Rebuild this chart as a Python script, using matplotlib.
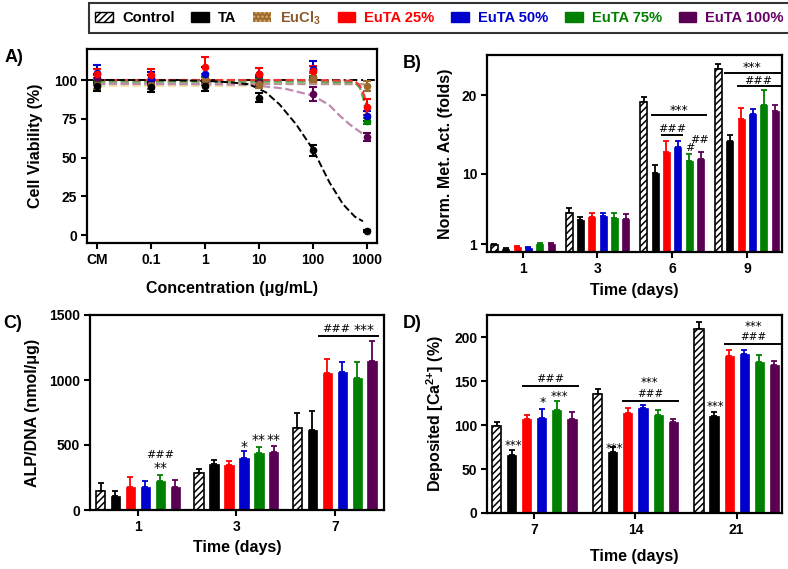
import numpy as np
import matplotlib
matplotlib.use('Agg')
import matplotlib.pyplot as plt
from matplotlib.patches import Patch

plt.rcParams['font.family'] = ['Liberation Sans', 'DejaVu Sans']
plt.rcParams['font.weight'] = 'bold'
plt.rcParams['axes.labelweight'] = 'bold'
plt.rcParams['axes.linewidth'] = 1.6
plt.rcParams['hatch.linewidth'] = 1.1
plt.rcParams['mathtext.fontset'] = 'custom'
plt.rcParams['mathtext.rm'] = 'Liberation Sans:bold'
plt.rcParams['mathtext.bf'] = 'Liberation Sans:bold'
plt.rcParams['mathtext.default'] = 'rm'

# legend / series
names = ['Control', 'TA', 'EuCl$_3$', 'EuTA 25%', 'EuTA 50%', 'EuTA 75%', 'EuTA 100%']
face = ['white', 'black', '#9C6A2E', '#FF0000', '#0000CC', '#008000', '#5A0052']
txt_col = ['black', 'black', '#8B5A2B', '#FF0000', '#0000CC', '#008000', '#660066']

# ---- A) cell viability
conc = [0.01, 0.1, 1, 10, 100, 1000]
conc_labels = ['CM', '0.1', '1', '10', '100', '1000']
via = {
    'EuTA 75%': ([100, 100, 101, 100, 102, 73.6], [3, 3, 3, 3, 3, 2]),
    'EuTA 100%': ([101, 100, 100, 99, 90.8, 63.3], [3, 3, 3, 3, 4.5, 2.5]),
    'EuCl$_3$': ([97, 97, 100.5, 97.6, 101.5, 96.2], [3, 3, 3, 3, 3, 3]),
    'EuTA 50%': ([104.7, 101.5, 104.2, 103.7, 106.8, 76.8], [5, 4, 4, 4, 5.4, 3]),
    'EuTA 25%': ([104, 103.2, 108.4, 104.2, 105.8, 82.6], [3, 3.6, 6.4, 3.5, 3.5, 5]),
    'TA': ([96.2, 95.5, 96.2, 88.6, 54.7, 2.6], [3.2, 3, 3, 3, 3.5, 0.8]),
}
# fitted curves
fit_ta_x = [0.01, 0.1, 1, 3, 6.7, 13.6, 24, 49, 100, 204, 363, 600, 850]
fit_ta_y = [100, 100, 99.5, 98.5, 97.2, 92, 84.4, 71.5, 55.5, 34, 20, 12, 9]
fit_red_x = [0.01, 1, 10, 100, 600, 750, 900, 1000]
fit_red_y = [100, 100, 100, 100, 99.5, 96, 90, 83]
fit_green_x = [0.01, 1, 10, 100, 600, 750, 900, 1000]
fit_green_y = [99, 99, 99, 99, 98.5, 95, 86, 74]
fit_pur_x = [0.01, 1, 5, 10, 30, 100, 200, 316, 500, 1000]
fit_pur_y = [97.5, 97.3, 97, 96.3, 94.5, 90, 84, 77, 71, 63.5]
fit_eucl_x = [0.01, 1000]
fit_eucl_y = [97.8, 97.3]
fit_pale_x = [0.01, 10]
fit_pale_y = [96, 96]

# ---- B) metabolic activity
days_b = ['1', '3', '6', '9']
met = [[0.87, 5.0, 19.1, 23.3],
       [0.44, 4.06, 10.1, 14.2],
       [0.66, 4.52, 12.8, 16.9],
       [0.57, 4.57, 13.4, 17.6],
       [1.04, 4.32, 11.6, 18.7],
       [1.04, 4.19, 11.9, 18.0]]
met_err = [[0.21, 0.6, 0.6, 0.7],
           [0.13, 0.42, 0.95, 0.75],
           [0.08, 0.5, 1.4, 1.4],
           [0.13, 0.35, 0.8, 0.6],
           [0.08, 0.7, 0.9, 1.9],
           [0.13, 0.6, 0.8, 0.7]]

# ---- C) ALP/DNA
days_c = ['1', '3', '7']
alp = [[149, 287, 631],
       [108, 354, 615],
       [180, 349, 1051],
       [177, 400, 1064],
       [220, 441, 1013],
       [180, 446, 1146]]
alp_err = [[61, 31, 113],
           [41, 31, 149],
           [76, 28, 113],
           [43, 54, 74],
           [47, 41, 123],
           [51, 49, 157]]

# ---- D) calcium
days_d = ['7', '14', '21']
ca = [[99.6, 135.4, 209.9],
      [66.5, 69.6, 109.9],
      [106.8, 113.3, 179.0],
      [108.4, 119.4, 180.6],
      [117.5, 111.4, 171.5],
      [106.8, 103.4, 168.0]]
ca_err = [[4.2, 5.3, 7.6],
          [5.5, 5.7, 4.9],
          [5.0, 6.1, 6.5],
          [10.2, 3.0, 4.9],
          [9.9, 6.1, 8.7],
          [8.4, 3.1, 4.6]]

bar_series = [0, 1, 3, 4, 5, 6]  # index into face colours

fig = plt.figure(figsize=(7.88, 5.69), dpi=100)
W, H = 788.0, 569.0


def add_ax(l, t, r, b):
    return fig.add_axes([l / W, 1 - b / H, (r - l) / W, (b - t) / H])


def style(ax):
    ax.tick_params(axis='both', which='major', direction='out', length=4, width=1.5,
                   labelsize=10, pad=3)
    ax.tick_params(top=False, right=False)
    for lab in ax.get_xticklabels() + ax.get_yticklabels():
        lab.set_fontweight('bold')


def bars(ax, vals, errs, step, width):
    n = len(vals[0])
    x = np.arange(n)
    for k, (v, e) in enumerate(zip(vals, errs)):
        c = face[bar_series[k]]
        xs = x + (k - 2.5) * step
        if k == 0:
            ax.bar(xs, v, width, color='white', edgecolor='black', hatch='/////', lw=1.2, zorder=2)
            ec = 'black'
        else:
            ax.bar(xs, v, width, color=c, edgecolor=c, lw=0.5, zorder=2)
            ec = c
        ax.errorbar(xs, v, yerr=[np.zeros(n), e], fmt='none', ecolor=ec, elinewidth=1.3,
                    capsize=2.5, capthick=1.3, zorder=1)
    ax.set_xticks(x)


def sig(ax, x, y, s, fs=9):
    ax.text(x, y, s, ha='center', va='center', fontsize=fs, fontweight='normal',
            family='DejaVu Sans')


def hline(ax, x0, x1, y):
    ax.plot([x0, x1], [y, y], color='black', lw=1.4, clip_on=False)


# ---------------- A
axA = add_ax(87, 49, 377, 243)
axA.set_xscale('log')
axA.axhline(100, color='black', ls=(0, (4, 2, 1, 2)), lw=1.4, zorder=1)
axA.plot(fit_pale_x, fit_pale_y, color='#F3E6A8', ls='--', lw=1.6, zorder=1)
axA.plot(fit_eucl_x, fit_eucl_y, color='#B8968C', ls='--', lw=1.6, zorder=1)
axA.plot(fit_green_x, fit_green_y, color='#55AA55', ls='--', lw=1.6, zorder=1)
axA.plot(fit_pur_x, fit_pur_y, color='#C08AB0', ls='--', lw=1.6, zorder=1)
axA.plot(fit_red_x, fit_red_y, color='#F03A3A', ls='--', lw=1.6, zorder=1)
axA.plot(fit_ta_x, fit_ta_y, color='black', ls='--', lw=1.4, zorder=1)
for nm, (v, e) in via.items():
    c = face[names.index(nm)]
    axA.errorbar(conc, v, yerr=e, fmt='o', color=c, ms=4.5, elinewidth=1.5, capsize=3,
                 capthick=1.5, zorder=3)
axA.set_xlim(0.0065, 1550)
axA.set_ylim(-5, 120)
axA.set_xticks(conc)
axA.set_xticklabels(conc_labels)
axA.minorticks_off()
axA.set_yticks([0, 25, 50, 75, 100])
axA.set_xlabel('Concentration (\u03bcg/mL)', fontsize=11.5, va='center')
axA.set_ylabel('Cell Viability (%)', fontsize=11.5, va='center')
axA.xaxis.set_label_coords(0.5, -0.232)
axA.yaxis.set_label_coords(-0.179, 0.5)
style(axA)

# ---------------- B
axB = add_ax(487, 55, 782, 252)
bars(axB, met, met_err, 0.152, 0.094)
axB.set_xticklabels(days_b)
axB.set_xlim(-0.478, 3.47)
axB.set_ylim(0, 25.1)
axB.set_yticks([1, 10, 20])
axB.set_xlabel('Time (days)', fontsize=11.5, va='center')
axB.set_ylabel('Norm. Met. Act. (folds)', fontsize=11.5, va='center')
axB.xaxis.set_label_coords(0.5, -0.193)
axB.yaxis.set_label_coords(-0.142, 0.5)
hline(axB, 1.735, 2.45, 17.45)
sig(axB, 2.09, 18.0, '***')
hline(axB, 1.86, 2.13, 14.9)
sig(axB, 1.995, 15.7, '###', 8)
sig(axB, 2.23, 13.3, '#', 8)
sig(axB, 2.37, 14.3, '##', 8)
hline(axB, 2.71, 3.44, 22.85)
sig(axB, 3.07, 23.45, '***')
hline(axB, 2.88, 3.44, 21.2)
sig(axB, 3.15, 21.8, '###', 8)
style(axB)

# ---------------- C
axC = add_ax(90, 315, 384, 510)
bars(axC, alp, alp_err, 0.152, 0.096)
axC.set_xticklabels(days_c)
axC.set_xlim(-0.487, 2.5)
axC.set_ylim(0, 1500)
axC.set_yticks([0, 500, 1000, 1500])
axC.set_xlabel('Time (days)', fontsize=11.5, va='center')
axC.set_ylabel('ALP/DNA (nmol/\u03bcg)', fontsize=11.5, va='center')
axC.xaxis.set_label_coords(0.5, -0.19)
axC.yaxis.set_label_coords(-0.194, 0.5)
sig(axC, 0.228, 423, '###', 8)
sig(axC, 0.228, 325, '**', 10)
sig(axC, 1.076, 485, '*', 10)
sig(axC, 1.228, 538, '**', 10)
sig(axC, 1.38, 538, '**', 10)
hline(axC, 1.84, 2.44, 1341)
sig(axC, 2.01, 1392, '###', 8)
sig(axC, 2.30, 1385, '***', 10)
style(axC)

# ---------------- D
axD = add_ax(487, 315, 782, 513)
bars(axD, ca, ca_err, 0.149, 0.09)
axD.set_xticklabels(days_d)
axD.set_xlim(-0.467, 2.448)
axD.set_ylim(0, 225.4)
axD.set_yticks([0, 50, 100, 150, 200])
axD.set_xlabel('Time (days)', fontsize=11.5, va='center')
axD.set_ylabel('Deposited [Ca$^{2{+}}$] (%)', fontsize=11.5, va='center')
axD.xaxis.set_label_coords(0.5, -0.222)
axD.yaxis.set_label_coords(-0.176, 0.5)
sig(axD, -0.207, 76.8, '***', 8.5)
sig(axD, 0.089, 125.9, '*')
sig(axD, 0.247, 133, '***', 8.5)
hline(axD, -0.109, 0.435, 144.5)
sig(axD, 0.162, 152, '###', 8)
sig(axD, 0.797, 73.4, '***', 8.5)
hline(axD, 0.873, 1.423, 127.7)
sig(axD, 1.143, 135.8, '###', 7.5)
sig(axD, 1.143, 148.5, '***', 8.5)
sig(axD, 1.786, 120.9, '***', 8.5)
hline(axD, 1.884, 2.428, 192.4)
sig(axD, 2.164, 200.2, '###', 7.5)
sig(axD, 2.164, 212.5, '***', 8.5)
style(axD)

# panel letters
for s, x, y in [('A)', 5, 58), ('B)', 403, 63), ('C)', 3, 324), ('D)', 403, 324)]:
    fig.text(x / W, 1 - y / H, s, fontsize=13, fontweight='bold', va='center', ha='left')

# legend
handles = []
for i, nm in enumerate(names):
    if i == 0:
        handles.append(Patch(facecolor='white', edgecolor='black', hatch='/////', lw=1))
    elif i == 2:
        handles.append(Patch(facecolor=face[i], edgecolor='#D8B070', hatch='....', lw=0))
    else:
        handles.append(Patch(facecolor=face[i], edgecolor=face[i]))
leg = fig.legend(handles, names, loc='center', bbox_to_anchor=(439.5 / W, 1 - 18 / H),
                 ncol=7, frameon=True, fancybox=False, edgecolor='black', fontsize=10.6,
                 handlelength=1.2, handleheight=0.7, handletextpad=0.6, columnspacing=1.15,
                 borderpad=0.45)
leg.get_frame().set_linewidth(1.5)
for t, c in zip(leg.get_texts(), txt_col):
    t.set_color(c)
    t.set_fontweight('bold')

fig.savefig('out.png', dpi=100)
